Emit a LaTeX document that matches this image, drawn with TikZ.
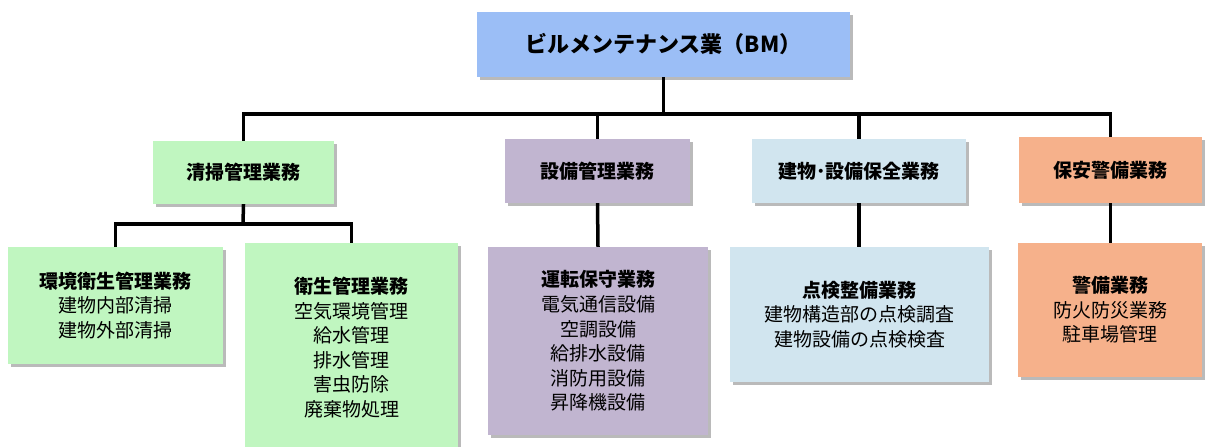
\documentclass[tikz,border=0pt]{standalone}
\usepackage{fontspec}
\setmainfont{Noto Sans CJK JP}
\usetikzlibrary{shadows}
\definecolor{cTop}{RGB}{155,190,246}
\definecolor{cGreen}{RGB}{192,246,192}
\definecolor{cPurple}{RGB}{193,181,208}
\definecolor{cBlue}{RGB}{209,229,239}
\definecolor{cOrange}{RGB}{246,177,139}
\tikzset{
  box/.style={rectangle, draw=none, inner sep=0pt, align=center,
    drop shadow={shadow xshift=3pt, shadow yshift=-3pt, fill=black!45, opacity=0.6}},
  toptext/.style={font=\fontsize{22}{26}\selectfont\bfseries},
  cattext/.style={font=\fontsize{19}{23}\selectfont\bfseries},
  bodytext/.style={font=\fontsize{19}{24.6}\selectfont},
  conn/.style={line width=3.5pt, black}
}
\begin{document}
\begin{tikzpicture}[x=1pt,y=-1pt]
\useasboundingbox (0,0) rectangle (1205,447);
% connectors
\coordinate (bar) at (663,114);
\coordinate (gbar) at (243,224);
% nodes
\node[box, fill=cTop, minimum width=373pt, minimum height=65pt, toptext] (top) at (663.5,44.5) {ビルメンテナンス業（BM）};
\node[box, fill=cGreen, minimum width=181pt, minimum height=63pt, cattext] (c1) at (243.5,172.5) {清掃管理業務};
\node[box, fill=cPurple, minimum width=185pt, minimum height=64pt, cattext] (c2) at (597.5,171) {設備管理業務};
\node[box, fill=cBlue, minimum width=214pt, minimum height=64pt, cattext] (c3) at (859,171) {建物･設備保全業務};
\node[box, fill=cOrange, minimum width=183pt, minimum height=66pt, cattext] (c4) at (1110.5,170) {保安警備業務};
\node[box, fill=cGreen, minimum width=215pt, minimum height=117pt, bodytext] (g1) at (115.5,305.5) {\textbf{環境衛生管理業務}\\建物内部清掃\\建物外部清掃};
\node[box, fill=cGreen, minimum width=213pt, minimum height=209pt, bodytext] (g2) at (351.5,347.5) {\textbf{衛生管理業務}\\空気環境管理\\給水管理\\排水管理\\害虫防除\\廃棄物処理};
\node[box, fill=cPurple, minimum width=220pt, minimum height=188pt, bodytext] (p1) at (598,341) {\textbf{運転保守業務}\\電気通信設備\\空調設備\\給排水設備\\消防用設備\\昇降機設備};
\node[box, fill=cBlue, minimum width=259pt, minimum height=135pt, bodytext] (b1) at (859.5,314.5) {\textbf{点検整備業務}\\建物構造部の点検調査\\建物設備の点検検査};
\node[box, fill=cOrange, minimum width=184pt, minimum height=134pt, bodytext] (o1) at (1110,310) {\textbf{警備業務}\\防火防災業務\\駐車場管理};
% lines
\draw[conn] (top.south) -- (top.south |- bar);
\draw[conn, line join=miter] (c1.north) -- (c1.north |- bar) -- (c4.north |- bar) -- (c4.north);
\draw[conn] (c2.north) -- (c2.north |- bar);
\draw[conn] (c3.north) -- (c3.north |- bar);
\draw[conn] (c2.south) -- (p1.north);
\draw[conn] (c3.south) -- (c3.south |- b1.north);
\draw[conn] (c4.south) -- (c4.south |- o1.north);
\draw[conn] (c1.south) -- (gbar);
\draw[conn, line join=miter] (g1.north) -- (g1.north |- gbar) -- (g2.north |- gbar) -- (g2.north);
\end{tikzpicture}
\end{document}
